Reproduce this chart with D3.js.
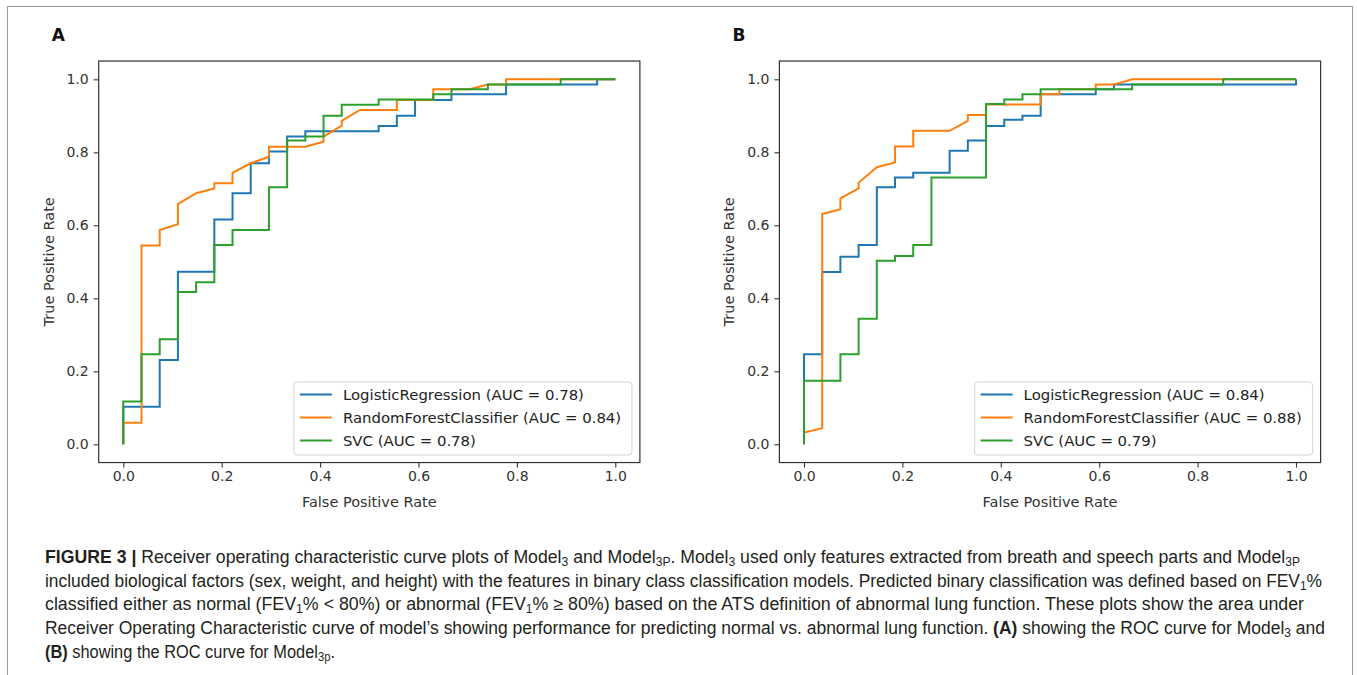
<!DOCTYPE html>
<html>
<head>
<meta charset="utf-8">
<script src="https://cdn.jsdelivr.net/npm/d3@7"></script>
<style>
	body { margin: 0; background: #fff; }
	svg text { font-family: "DejaVu Sans", sans-serif; }
</style>
</head>
<body>
<div id="wrapper"></div>
<script>
// panel A (Model3)
const lrA_fpr = [0,0,0.074,0.074,0.111,0.111,0.185,0.185,0.222,0.222,0.259,0.259,0.296,0.296,0.333,0.333,0.370,0.370,0.519,0.519,0.556,0.556,0.593,0.593,0.667,0.667,0.778,0.778,0.963,0.963,1];
const lrA_tpr = [0,0.103,0.103,0.231,0.231,0.473,0.473,0.616,0.616,0.688,0.688,0.770,0.770,0.802,0.802,0.843,0.843,0.858,0.858,0.872,0.872,0.900,0.900,0.943,0.943,0.959,0.959,0.986,0.986,1,1];
const rfA_fpr = [0,0,0.037,0.037,0.074,0.074,0.111,0.111,0.148,0.185,0.185,0.222,0.222,0.259,0.296,0.296,0.370,0.407,0.407,0.444,0.444,0.481,0.556,0.556,0.630,0.630,0.704,0.741,0.778,0.778,1];
const rfA_tpr = [0,0.059,0.059,0.545,0.545,0.587,0.603,0.658,0.688,0.701,0.715,0.715,0.744,0.770,0.788,0.815,0.815,0.829,0.843,0.873,0.886,0.916,0.916,0.943,0.943,0.973,0.973,0.986,0.986,1,1];
const svcA_fpr = [0,0,0.037,0.037,0.074,0.074,0.111,0.111,0.148,0.148,0.185,0.185,0.222,0.222,0.296,0.296,0.333,0.333,0.370,0.370,0.407,0.407,0.444,0.444,0.519,0.519,0.630,0.630,0.667,0.667,0.741,0.741,0.889,0.889,1];
const svcA_tpr = [0,0.117,0.117,0.247,0.247,0.288,0.288,0.417,0.417,0.444,0.444,0.546,0.546,0.587,0.587,0.704,0.704,0.832,0.832,0.843,0.843,0.900,0.900,0.930,0.930,0.945,0.945,0.959,0.959,0.973,0.973,0.986,0.986,1,1];

// panel B (Model3P)
const lrB_fpr = [0,0,0.037,0.037,0.074,0.074,0.111,0.111,0.148,0.148,0.185,0.185,0.222,0.222,0.296,0.296,0.333,0.333,0.370,0.370,0.407,0.407,0.444,0.444,0.481,0.481,0.593,0.593,0.630,0.630,1,1];
const lrB_tpr = [0,0.247,0.247,0.472,0.472,0.514,0.514,0.546,0.546,0.704,0.704,0.731,0.731,0.744,0.744,0.804,0.804,0.832,0.832,0.872,0.872,0.889,0.889,0.900,0.900,0.959,0.959,0.973,0.973,0.986,0.986,1];
const rfB_fpr = [0,0,0.037,0.037,0.074,0.074,0.111,0.111,0.148,0.185,0.185,0.222,0.222,0.296,0.333,0.333,0.370,0.370,0.481,0.481,0.519,0.519,0.593,0.593,0.630,0.667,1];
const rfB_tpr = [0,0.032,0.044,0.631,0.644,0.674,0.701,0.717,0.759,0.772,0.816,0.816,0.859,0.859,0.886,0.902,0.902,0.931,0.931,0.959,0.959,0.973,0.973,0.986,0.986,1,1];
const svcB_fpr = [0,0,0.074,0.074,0.111,0.111,0.148,0.148,0.185,0.185,0.222,0.222,0.259,0.259,0.370,0.370,0.407,0.407,0.444,0.444,0.481,0.481,0.667,0.667,0.852,0.852,1];
const svcB_tpr = [0,0.174,0.174,0.247,0.247,0.344,0.344,0.503,0.503,0.516,0.516,0.546,0.546,0.731,0.731,0.932,0.932,0.945,0.945,0.959,0.959,0.973,0.973,0.986,0.986,1,1];

const modelNames = ["LogisticRegression", "RandomForestClassifier", "SVC"];
const aucA = ["0.78", "0.84", "0.78"];
const aucB = ["0.84", "0.88", "0.79"];
const tickValues = [0, 0.2, 0.4, 0.6, 0.8, 1.0];
const colors = ["#1f77b4", "#ff7f0e", "#2ca02c"];

// caption lines: [text, style] where style is "" / "b" (bold) / "s" (subscript)
const captionLines = [
	[["FIGURE 3 | ", "b"], ["Receiver operating characteristic curve plots of Model", ""], ["3", "s"], [" and Model", ""], ["3P", "s"], [". Model", ""], ["3", "s"], [" used only features extracted from breath and speech parts and Model", ""], ["3P", "s"]],
	[["included biological factors (sex, weight, and height) with the features in binary class classification models. Predicted binary classification was defined based on FEV", ""], ["1", "s"], ["%", ""]],
	[["classified either as normal (FEV", ""], ["1", "s"], ["% < 80%) or abnormal (FEV", ""], ["1", "s"], ["% \u2265 80%) based on the ATS definition of abnormal lung function. These plots show the area under", ""]],
	[["Receiver Operating Characteristic curve of model\u2019s showing performance for predicting normal vs. abnormal lung function. ", ""], ["(A)", "b"], [" showing the ROC curve for Model", ""], ["3", "s"], [" and", ""]],
	[["(B)", "b"], [" showing the ROC curve for Model", ""], ["3p", "s"], [".", ""]]
];
const captionWidths = [1255, 1277, 1259, 1280, 290];

const zip = (xs, ys) => xs.map((x, i) => [x, ys[i]]);

const panels = [
	{ label: "A", left: 98.7, auc: aucA, series: [zip(lrA_fpr, lrA_tpr), zip(rfA_fpr, rfA_tpr), zip(svcA_fpr, svcA_tpr)] },
	{ label: "B", left: 779.4, auc: aucB, series: [zip(lrB_fpr, lrB_tpr), zip(rfB_fpr, rfB_tpr), zip(svcB_fpr, svcB_tpr)] }
];

const dims = { width: 1357, height: 675, axTop: 61.05, axBottom: 462.55, axWidth: 541.2 };

const svg = d3.select("#wrapper").append("svg")
	.attr("width", dims.width)
	.attr("height", dims.height);

svg.append("rect").attr("width", dims.width).attr("height", dims.height).attr("fill", "#fff");
// figure frame (bottom edge runs past the picture)
svg.append("rect")
	.attr("x", 7.5).attr("y", 6.5)
	.attr("width", 1345).attr("height", 690)
	.attr("fill", "none").attr("stroke", "#9a9a9a").attr("stroke-width", 1);

panels.forEach(p => {
	const xScale = d3.scaleLinear().domain([-0.05, 1.05]).range([p.left, p.left + dims.axWidth]);
	const yScale = d3.scaleLinear().domain([-0.05, 1.05]).range([dims.axBottom, dims.axTop]);

	const g = svg.append("g");

	g.append("text")
		.attr("x", p.left - 47).attr("y", 41)
		.attr("font-size", 17).attr("font-weight", "bold")
		.attr("font-family", "Liberation Sans, Arial, sans-serif")
		.attr("fill", "#111")
		.text(p.label);

	const xAxis = d3.axisBottom(xScale).tickValues(tickValues).tickFormat(d3.format(".1f")).tickSizeOuter(0).tickSize(5).tickPadding(4);
	const yAxis = d3.axisLeft(yScale).tickValues(tickValues).tickFormat(d3.format(".1f")).tickSizeOuter(0).tickSize(5).tickPadding(5);

	const gx = g.append("g").attr("transform", `translate(0,${dims.axBottom})`).call(xAxis);
	const gy = g.append("g").attr("transform", `translate(${p.left},0)`).call(yAxis);
	[gx, gy].forEach(a => {
		a.select(".domain").remove();
		a.selectAll(".tick line").attr("stroke", "#333").attr("stroke-width", 1.1);
		a.selectAll(".tick text").attr("font-size", 14).attr("fill", "#333").attr("font-family", "DejaVu Sans");
	});

	g.append("text")
		.attr("x", xScale(0.5)).attr("y", 507)
		.attr("text-anchor", "middle")
		.attr("font-size", 14.5).attr("fill", "#333")
		.text("False Positive Rate");

	g.append("text")
		.attr("transform", `translate(${p.left - 45},${yScale(0.5)}) rotate(-90)`)
		.attr("text-anchor", "middle")
		.attr("font-size", 14.5).attr("fill", "#333")
		.text("True Positive Rate");

	const line = d3.line().x(d => xScale(d[0])).y(d => yScale(d[1]));

	g.selectAll(".curve")
		.data(p.series)
		.enter()
		.append("path")
		.attr("class", "curve")
		.attr("d", line)
		.attr("fill", "none")
		.attr("stroke", (d, i) => colors[i])
		.attr("stroke-width", 2)
		.attr("stroke-linejoin", "miter");

	// spines
	g.append("rect")
		.attr("x", p.left).attr("y", dims.axTop)
		.attr("width", dims.axWidth).attr("height", dims.axBottom - dims.axTop)
		.attr("fill", "none").attr("stroke", "#333").attr("stroke-width", 1.2);

	// legend
	const lgW = 338, lgH = 73;
	const lgX = p.left + dims.axWidth - 8 - lgW;
	const lgY = 382;
	const legend = g.append("g").attr("transform", `translate(${lgX},${lgY})`);
	legend.append("rect")
		.attr("width", lgW).attr("height", lgH).attr("rx", 3)
		.attr("fill", "#fff").attr("fill-opacity", 0.8)
		.attr("stroke", "#d4d4d4").attr("stroke-width", 1);

	const rows = legend.selectAll(".row")
		.data(modelNames)
		.enter()
		.append("g")
		.attr("transform", (d, i) => `translate(0,${12.5 + i * 23})`);
	rows.append("line")
		.attr("x1", 6).attr("x2", 38)
		.attr("stroke", (d, i) => colors[i]).attr("stroke-width", 2);
	rows.append("text")
		.attr("x", 49).attr("dy", "0.36em")
		.attr("font-size", 14.9).attr("fill", "#222")
		.text((d, i) => `${d} (AUC = ${p.auc[i]})`);
});

// caption
const cap = svg.append("g").attr("fill", "#231f20");

captionLines.forEach((segs, li) => {
	const t = cap.append("text")
		.attr("x", 45).attr("y", 563 + li * 23.7)
		.attr("font-size", 17.5)
		.style("font-family", "'Liberation Sans Narrow', 'Liberation Sans', Arial, sans-serif");
	if (captionWidths[li]) {
		t.attr("textLength", captionWidths[li]).attr("lengthAdjust", "spacingAndGlyphs");
	}
	segs.forEach(([s, style]) => {
		const ts = t.append("tspan").text(s);
		if (style === "b") ts.attr("font-weight", "bold");
		if (style === "s") ts.attr("font-size", 12).attr("baseline-shift", "-3");
	});
});
</script>
</body>
</html>
